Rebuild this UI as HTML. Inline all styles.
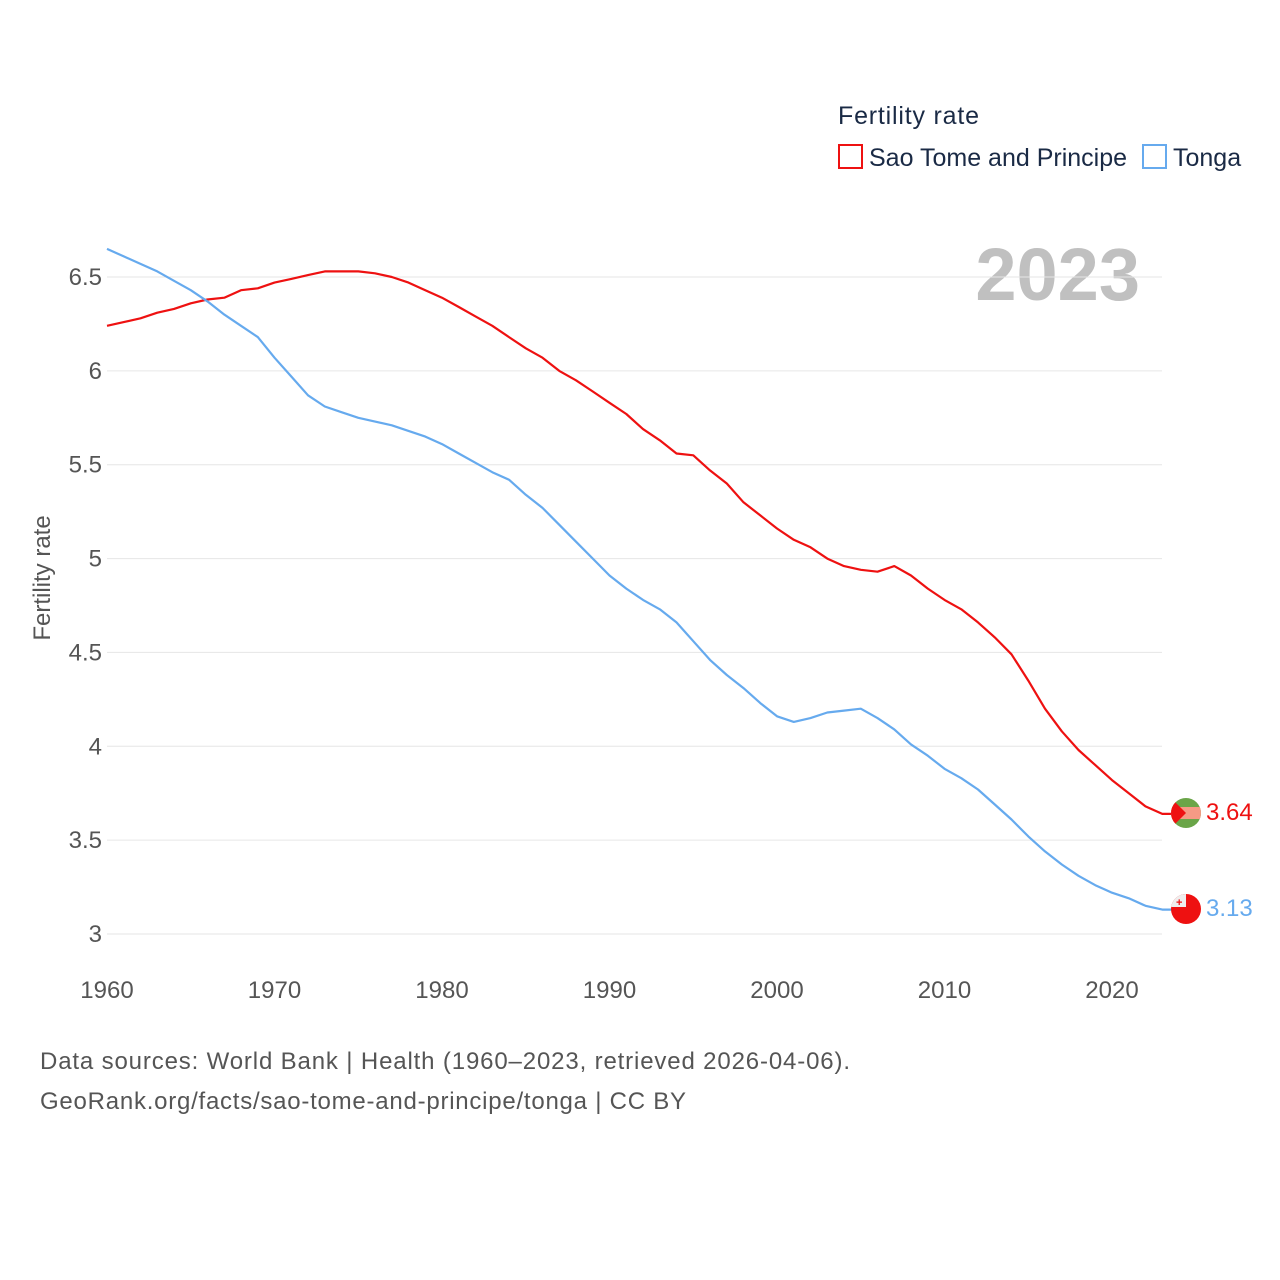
<!DOCTYPE html>
<html><head><meta charset="utf-8">
<style>
body{margin:0;background:#fff;font-family:"Liberation Sans",sans-serif;}
svg{display:block}
</style></head>
<body>
<svg id="chart" width="1280" height="1280" viewBox="0 0 1280 1280">
<text x="838" y="124" font-size="25" fill="#1a2a45" textLength="141">Fertility rate</text>
<g>
<rect x="839" y="145" width="23" height="23" fill="none" stroke="#ee1111" stroke-width="2"/>
<text x="869" y="166" font-size="25" fill="#1a2a45">Sao Tome and Principe</text></g>
<g>
<rect x="1143" y="145" width="23" height="23" fill="none" stroke="#66aaee" stroke-width="2"/>
<text x="1173" y="166" font-size="25" fill="#1a2a45">Tonga</text></g>
<text x="1140" y="300" font-size="74" font-weight="bold" fill="#c0c0c0" text-anchor="end">2023</text>
<text transform="translate(50,578) rotate(-90)" font-size="24" fill="#555" text-anchor="middle">Fertility rate</text>
<g id="grid"></g><g id="yt"></g><g id="xt"></g><g id="lines"></g>
<g>
<clipPath id="c1"><circle cx="1186" cy="813" r="15"/></clipPath>
<g clip-path="url(#c1)"><rect x="1170" y="797" width="32" height="32" fill="#6aa548"/><rect x="1170" y="807" width="32" height="12" fill="#f59a85"/><polygon points="1170,797 1186,813 1170,829" fill="#ee1111"/></g></g>
<g>
<clipPath id="c2"><circle cx="1186" cy="909" r="15"/></clipPath>
<g clip-path="url(#c2)"><rect x="1170" y="893" width="32" height="32" fill="#ee1111"/><rect x="1170" y="893" width="16" height="14" fill="#eee"/><text x="1176" y="906" font-size="11" fill="#e11" font-weight="bold">+</text></g></g>
<text x="1206" y="820" font-size="24" fill="#ee1111">3.64</text>
<text x="1206" y="916" font-size="24" fill="#66aaee">3.13</text>
<text x="40" y="1069" font-size="24" fill="#555" textLength="810">Data sources: World Bank | Health (1960–2023, retrieved 2026-04-06).</text>
<text x="40" y="1109" font-size="24" fill="#555" textLength="646">GeoRank.org/facts/sao-tome-and-principe/tonga | CC BY</text>
</svg>
<script>
const years=[];for(let y=1960;y<=2023;y++)years.push(y);
const stp=[6.24,6.26,6.28,6.31,6.33,6.36,6.38,6.39,6.43,6.44,6.47,6.49,6.51,6.53,6.53,6.53,6.52,6.50,6.47,6.43,6.39,6.34,6.29,6.24,6.18,6.12,6.07,6.00,5.95,5.89,5.83,5.77,5.69,5.63,5.56,5.55,5.47,5.40,5.30,5.23,5.16,5.10,5.06,5.00,4.96,4.94,4.93,4.96,4.91,4.84,4.78,4.73,4.66,4.58,4.49,4.35,4.20,4.08,3.98,3.90,3.82,3.75,3.68,3.64];
const tonga=[6.65,6.61,6.57,6.53,6.48,6.43,6.37,6.30,6.24,6.18,6.07,5.97,5.87,5.81,5.78,5.75,5.73,5.71,5.68,5.65,5.61,5.56,5.51,5.46,5.42,5.34,5.27,5.18,5.09,5.00,4.91,4.84,4.78,4.73,4.66,4.56,4.46,4.38,4.31,4.23,4.16,4.13,4.15,4.18,4.19,4.20,4.15,4.09,4.01,3.95,3.88,3.83,3.77,3.69,3.61,3.52,3.44,3.37,3.31,3.26,3.22,3.19,3.15,3.13];
const yTicks=[3,3.5,4,4.5,5,5.5,6,6.5];
const yTickLabels=["3","3.5","4","4.5","5","5.5","6","6.5"];
const xTicks=[1960,1970,1980,1990,2000,2010,2020];
const NS="http://www.w3.org/2000/svg";
const X=yr=>107+(yr-1960)*16.75;
const Y=v=>934-(v-3)*187.71;
function mk(tag,attrs,parent){const e=document.createElementNS(NS,tag);for(const k in attrs)e.setAttribute(k,attrs[k]);document.getElementById(parent).appendChild(e);return e;}
yTicks.forEach((t,i)=>{
 const l=mk('line',{x1:107,x2:1162,y1:Y(t),y2:Y(t),stroke:'#e6e6e6','stroke-width':1},'grid');
 
 
 const tx=mk('text',{x:102,y:Y(t)+8,'font-size':24,fill:'#555','text-anchor':'end'},'yt');
 tx.textContent=yTickLabels[i];
 
 
});
xTicks.forEach(t=>{
 const tx=mk('text',{x:X(t),y:998,'font-size':24,fill:'#555','text-anchor':'middle'},'xt');
 tx.textContent=t;
 
 
});
function line(data,color,name){
 const d=data.map((v,i)=>(i?'L':'M')+X(years[i]).toFixed(1)+' '+Y(v).toFixed(1)).join(' ')+' L1172 '+Y(data[data.length-1]).toFixed(1);
 const p=mk('path',{d:d,fill:'none',stroke:color,'stroke-width':2.2,'stroke-linejoin':'round'},'lines');
 
 
}
line(stp,'#ee1111','line-sao-tome');
line(tonga,'#66aaee','line-tonga');
</script>
</body></html>
